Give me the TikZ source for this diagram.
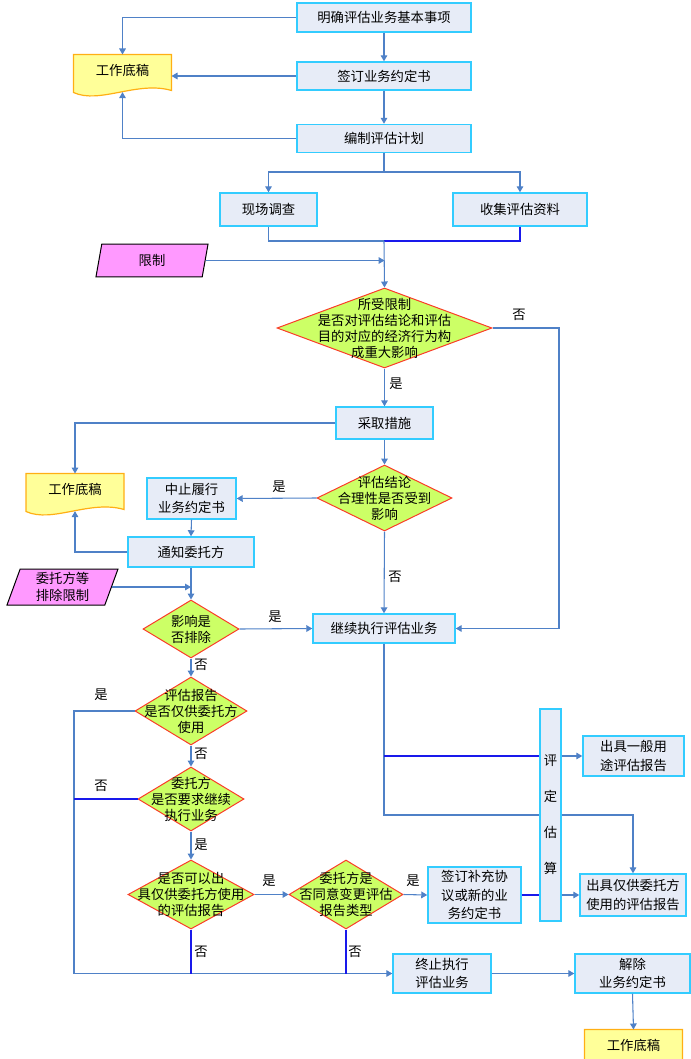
\documentclass[tikz,border=0pt]{standalone}
\usepackage{fontspec}
\setmainfont{Noto Sans CJK SC}
\usetikzlibrary{shapes.geometric,arrows.meta,backgrounds}

\definecolor{lineblue}{RGB}{79,129,199}
\definecolor{pureblue}{RGB}{25,25,235}
\definecolor{boxfill}{RGB}{231,236,247}
\definecolor{boxline}{RGB}{51,204,255}
\definecolor{diafill}{RGB}{204,255,102}
\definecolor{dialine}{RGB}{250,60,40}
\definecolor{docfill}{RGB}{255,255,153}
\definecolor{docline}{RGB}{255,175,20}
\definecolor{parafill}{RGB}{255,153,255}

\tikzset{every picture/.style={line width=0.75pt}}
\tikzset{
  proc/.style 2 args={draw=boxline, fill=boxfill, line width=1.1pt, inner sep=0.75pt, align=center,
    minimum width=#1*0.75pt, minimum height=#2*0.75pt, font=\fontsize{10pt}{14pt}\selectfont},
  decision/.style 2 args={diamond, draw=dialine, fill=diafill, line width=0.75pt, inner sep=0pt,
    minimum width=#1*0.75pt, minimum height=#2*0.75pt},
  dtext/.style={align=center, inner sep=0pt, font=\fontsize{10pt}{12pt}\selectfont},
  docu/.style={inner sep=0pt, minimum width=72.75pt, minimum height=22.5pt, font=\fontsize{10pt}{12pt}\selectfont},
  inp/.style 2 args={trapezium, trapezium left angle=67, trapezium right angle=113, trapezium stretches body,
    draw=black, fill=parafill, line width=0.75pt, inner sep=0.5pt, align=center,
    minimum width=#1*0.75pt, minimum height=#2*0.75pt, font=\fontsize{10pt}{13pt}\selectfont},
  flow/.style={draw=lineblue, line width=0.8pt},
  flowb/.style={draw=pureblue, line width=0.8pt},
  yn/.style={inner sep=0.75pt, font=\fontsize{10pt}{12pt}\selectfont},
  >={Triangle[length=4.5pt,width=5pt]}
}

% wavy bottom of a working-paper node (y axis is flipped, so yshift>0 is down)
\newcommand{\docshape}[1]{%
  \begin{scope}[on background layer]
    \draw[draw=docline, fill=docfill, line width=0.9pt] (#1.north west) -- (#1.north east) -- ([yshift=3.75pt]#1.south east)
      .. controls ([xshift=-25.5pt,yshift=-3.75pt]#1.south east) and ([xshift=19.5pt,yshift=14.25pt]#1.south west) .. ([yshift=5.25pt]#1.south west) -- cycle;
  \end{scope}}

\begin{document}
\begin{tikzpicture}[x=0.75pt,y=0.75pt,yscale=-1,xscale=1]
  \useasboundingbox (0,0) rectangle (690,1059);

  %Shape: Boxes
  \node[proc={174}{29}] (mq) at (384,17.5) {明确评估业务基本事项};
  \node[proc={174}{28}] (qd) at (384,76) {签订业务约定书};
  \node[proc={174}{28}] (bz) at (384,138.5) {编制评估计划};
  \node[proc={97}{33}] (xc) at (268.5,209.5) {现场调查};
  \node[proc={134}{33}] (sj) at (520,209.5) {收集评估资料};
  \node[proc={97}{32}] (cq) at (384.5,423) {采取措施};
  \node[proc={89}{41}] (zz) at (191.5,498.5) {中止履行\\业务约定书};
  \node[proc={126}{30}] (tz) at (191,552) {通知委托方};
  \node[proc={142}{29}] (jx) at (384,628.5) {继续执行评估业务};
  \node[proc={93}{56}] (qb) at (474.5,895) {签订补充协\\议或新的业\\务约定书};
  \node[proc={21}{212}] (pd) at (550.5,815) {评\\[13pt]定\\[13pt]估\\[13pt]算};
  \node[proc={101}{40}] (yb) at (633.5,756) {出具一般用\\途评估报告};
  \node[proc={106}{42}] (jg) at (633,895) {出具仅供委托方\\使用的评估报告};
  \node[proc={98}{39}] (zzz) at (442,973.5) {终止执行\\评估业务};
  \node[proc={115}{39}] (jc) at (632.5,973.5) {解除\\业务约定书};

  %Shape: Working papers
  \node[docu] (doc1) at (122.5,70) {工作底稿};
  \node[docu] (doc2) at (75,489) {工作底稿};
  \node[docu] (doc3) at (633.5,1045) {工作底稿};
  \docshape{doc1}
  \docshape{doc2}
  \docshape{doc3}

  %Shape: Inputs
  \node[inp={112}{32.5}] (xz) at (152,260.5) {限制};
  \node[inp={111}{36}] (pc) at (62.5,587) {委托方等\\排除限制};

  %Shape: Decisions
  \node[decision={215}{80}] (d1) at (384.5,328) {};
  \node[dtext] (d1t) at (d1) {所受限制\\是否对评估结论和评估\\目的对应的经济行为构\\成重大影响};
  \node[decision={135}{66}] (d2) at (384.5,498) {};
  \node[dtext] (d2t) at (d2) {评估结论\\合理性是否受到\\影响};
  \node[decision={96}{58}] (d3) at (191,629) {};
  \node[dtext] (d3t) at (d3) {影响是\\否排除};
  \node[decision={112}{68}] (d4) at (191,711) {};
  \node[dtext] (d4t) at (d4) {评估报告\\是否仅供委托方\\使用};
  \node[decision={106}{64}] (d5) at (191,799) {};
  \node[dtext] (d5t) at (d5) {委托方\\是否要求继续\\执行业务};
  \node[decision={126}{69}] (d6) at (191,894.5) {};
  \node[dtext] (d6t) at (d6) {是否可以出\\具仅供委托方使用\\的评估报告};
  \node[decision={114}{69}] (d7) at (346,894.5) {};
  \node[dtext] (d7t) at (d7) {委托方是\\否同意变更评估\\报告类型};

  %Junctions
  \coordinate (j1) at (384,172);
  \coordinate (j2) at (384,241);
  \coordinate (j4) at (384,756);
  \coordinate (j5) at (384,815);
  \coordinate (rgt) at (559,328);
  \coordinate (lft) at (74,711);

  %Straight Lines
  \draw[flow,->] (mq.west) -| (doc1.north);
  \draw[flow,->] (mq.south) -- (qd.north);
  \draw[flow,->] (qd.west) -- (qd.west -| doc1.east);
  \draw[flow,->] (qd.south) -- (bz.north);
  \draw[flow,->] (bz.west) -| ([yshift=5pt]doc1.south);
  \draw[flow] (bz.south) -- (j1);
  \draw[flow,->] (j1) -| (xc.north);
  \draw[flow,->] (j1) -| (sj.north);
  \draw[flow] (xc.south) |- (j2);
  \draw[flowb] (sj.south) |- (j2);
  \draw[flow,->] (j2) -- (d1.north);
  \draw[flow,->] (xz.east) -- (xz.east -| d1.north);
  \draw[flow,->] (d1.east) -- (rgt) |- (jx.east);
  \draw[flow,->] (d1.south) -- (cq.north);
  \draw[flow,->] (cq.west) -| (doc2.north);
  \draw[flow,->] (cq.south) -- (d2.north);
  \draw[flow,->] (d2.west) -- (zz.east);
  \draw[flow,->] (d2.south) -- (jx.north);
  \draw[flow,->] (zz.south) -- (tz.north);
  \draw[flow,->] (tz.west) -| ([yshift=5pt]doc2.south);
  \draw[flow,->] (tz.south) -- (d3.north);
  \draw[flow,->] (pc.east) -- (pc.east -| d3.north);
  \draw[flow,->] (d3.east) -- (jx.west);
  \draw[flow,->] (d3.south) -- (d4.north);
  \draw[flow,->] (d4.west) -- (lft) |- (zzz.west);
  \draw[flow,->] (d4.south) -- (d5.north);
  \draw[flowb] (d5.west) -- (d5.west -| lft);
  \draw[flow,->] (d5.south) -- (d6.north);
  \draw[flow,->] (d6.east) -- (d7.west);
  \draw[flow,->] (d7.east) -- (qb.west);
  \draw[flowb] (d6.south) -- (d6.south |- zzz.west);
  \draw[flowb] (d7.south) -- (d7.south |- zzz.west);
  \draw[flow,->] (zzz.east) -- (jc.west);
  \draw[flow,->] (jc.south) -- (doc3.north);
  \draw[flow] (jx.south) -- (j5) -- (j5 -| pd.west);
  \draw[flow,->] (j5 -| pd.east) -| (jg.north);
  \draw[flowb] (j4) -- (j4 -| pd.west);
  \draw[flow,->] (yb.west -| pd.east) -- (yb.west);
  \draw[flowb] (qb.east) -- (qb.east -| pd.west);
  \draw[flow,->] (jg.west -| pd.east) -- (jg.west);

  % Text Node
  \node[yn] (n1) at (519,315) {否};
  \node[yn] (n2) at (396,384) {是};
  \node[yn] (n3) at (279,487) {是};
  \node[yn] (n4) at (395,577) {否};
  \node[yn] (n5) at (275,617) {是};
  \node[yn] (n6) at (201,665) {否};
  \node[yn] (n7) at (101,695) {是};
  \node[yn] (n8) at (201,754) {否};
  \node[yn] (n9) at (101,786) {否};
  \node[yn] (n10) at (201,845) {是};
  \node[yn] (n11) at (269,881) {是};
  \node[yn] (n12) at (413,881) {是};
  \node[yn] (n13) at (201,952) {否};
  \node[yn] (n14) at (355,952) {否};
\end{tikzpicture}
\end{document}
